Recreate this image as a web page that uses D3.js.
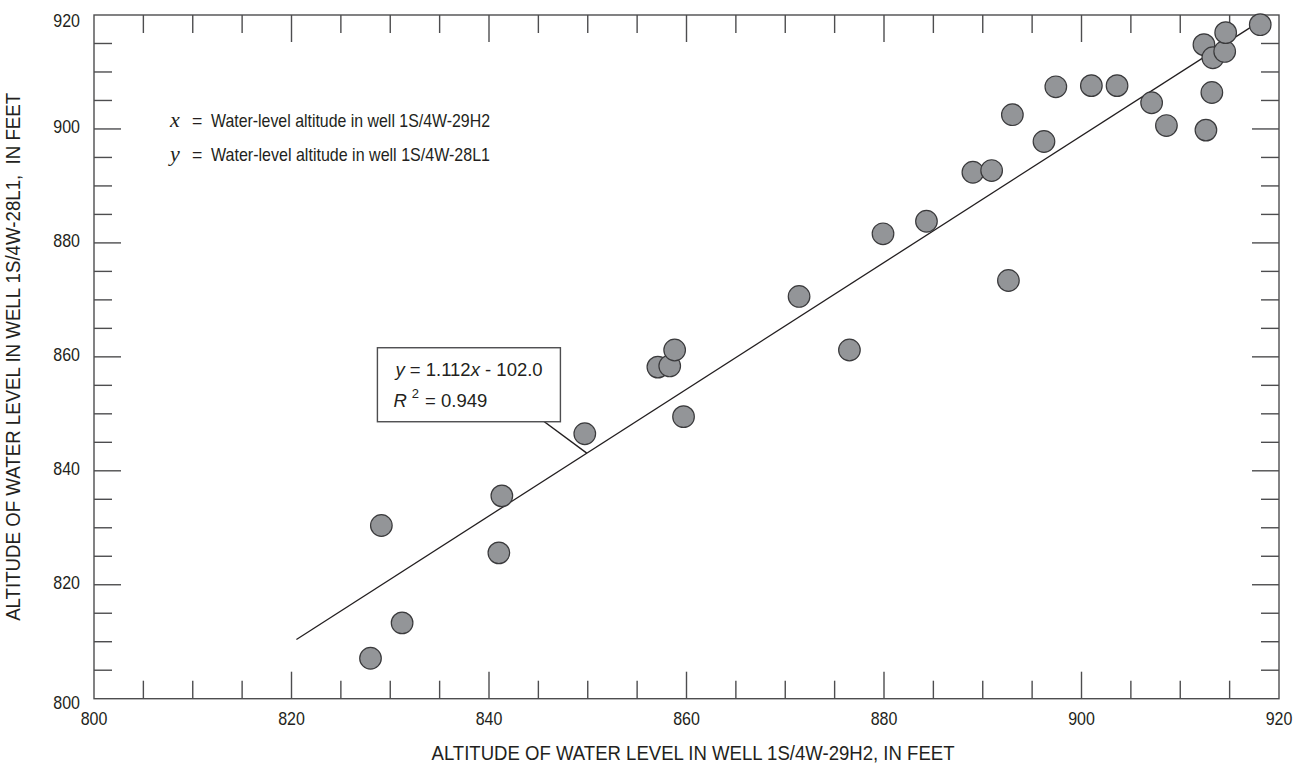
<!DOCTYPE html>
<html>
<head>
<meta charset="utf-8">
<script src="https://cdn.jsdelivr.net/npm/d3@7"></script>
<style>
  body { margin: 0; background: #fff; }
  svg text { font-family: "Liberation Sans", Arial, sans-serif; fill: #231f20; }
  svg text.serif { font-family: "Liberation Serif", "Times New Roman", serif; }
  .frame { fill: none; stroke: #4d4d4f; stroke-width: 1.4; }
  .tick { stroke: #4d4d4f; stroke-width: 1.4; }
</style>
</head>
<body>
<div id="main"></div>
<script>
const ctx = {
    w: 1296,
    h: 764,
    left: 94, right: 1279, top: 15, bottom: 698.7,
    MAJOR_TICK: 27,
    MINOR_TICK: 18,
    DOT_R: 10.8,
    DIGIT_W: 8.9, // the original uses a condensed face, so labels get squeezed
};

// water-level pairs (feet)
const wellX = [828.0, 829.1, 831.2, 841.0, 841.3, 849.7, 857.1, 858.3, 858.8, 859.7,
               871.4, 876.5, 879.9, 884.3, 889.0, 890.9, 892.6, 893.0, 896.2, 897.4,
               901.0, 903.6, 907.1, 908.6, 912.4, 912.6, 913.2, 913.3, 914.5, 914.6, 918.1];
const wellY = [807.1, 830.4, 813.3, 825.6, 835.6, 846.5, 858.2, 858.4, 861.2, 849.5,
               870.6, 861.2, 881.6, 883.8, 892.4, 892.7, 873.4, 902.5, 897.8, 907.4,
               907.6, 907.6, 904.6, 900.6, 914.8, 899.8, 906.4, 912.5, 913.6, 916.9, 918.3];

const SLOPE = 1.112;
const INTERCEPT = -102.0;
const FIT_RANGE = [820.5, 918.3];

const xTicks = [800, 820, 840, 860, 880, 900, 920];
const yTicks = [800, 820, 840, 860, 880, 900, 920];
const DOMAIN = [800, 920];

// annotation anchors in data units
const boxCorner = [828.7, 861.6];
const leader = [[842.8, 852.2], [849.9, 843.1]];

const x = d3.scaleLinear().domain(DOMAIN).range([ctx.left, ctx.right]);
const y = d3.scaleLinear().domain(DOMAIN).range([ctx.bottom, ctx.top]);

function squeeze(sel, len){
    sel.attr("textLength", len).attr("lengthAdjust", "spacingAndGlyphs");
}

function drawTicks(svg){
    let g = svg.append("g").attr("id", "ticks");
    let minor = d3.range(DOMAIN[0] + 5, DOMAIN[1], 5);
    minor.forEach(function(v){
        let len = (v % 20 === 0) ? ctx.MAJOR_TICK : ctx.MINOR_TICK;
        // bottom & top
        g.append("line").attr("class", "tick")
         .attr("x1", x(v)).attr("x2", x(v)).attr("y1", ctx.bottom).attr("y2", ctx.bottom - len);
        g.append("line").attr("class", "tick")
         .attr("x1", x(v)).attr("x2", x(v)).attr("y1", ctx.top).attr("y2", ctx.top + len);
        // left & right
        g.append("line").attr("class", "tick")
         .attr("y1", y(v)).attr("y2", y(v)).attr("x1", ctx.left).attr("x2", ctx.left + len);
        g.append("line").attr("class", "tick")
         .attr("y1", y(v)).attr("y2", y(v)).attr("x1", ctx.right).attr("x2", ctx.right - len);
    });
    svg.append("rect").attr("class", "frame")
       .attr("x", ctx.left).attr("y", ctx.top)
       .attr("width", ctx.right - ctx.left).attr("height", ctx.bottom - ctx.top);

    g.selectAll("text.xl").data(xTicks).enter().append("text")
     .attr("class", "xl")
     .attr("x", (d) => x(d)).attr("y", 725)
     .attr("text-anchor", "middle").attr("font-size", 18.5)
     .call(squeeze, 3 * ctx.DIGIT_W)
     .text((d) => d);

    g.selectAll("text.yl").data(yTicks).enter().append("text")
     .attr("class", "yl")
     .attr("x", 80)
     .attr("y", function(d){
         if (d === 920) return y(d) + 12;
         if (d === 800) return y(d) + 10;
         return y(d) + 4;
     })
     .attr("text-anchor", "end").attr("font-size", 18.5)
     .call(squeeze, 3 * ctx.DIGIT_W)
     .text((d) => d);
}

function drawTitles(svg){
    svg.append("text")
       .attr("x", 693).attr("y", 760)
       .attr("text-anchor", "middle").attr("font-size", 21)
       .call(squeeze, 523)
       .text("ALTITUDE OF WATER LEVEL IN WELL 1S/4W-29H2, IN FEET");
    svg.append("text")
       .attr("transform", "translate(20," + ((ctx.top + ctx.bottom) / 2) + ") rotate(-90)")
       .attr("text-anchor", "middle").attr("font-size", 21)
       .attr("xml:space", "preserve")
       .call(squeeze, 528)
       .text("ALTITUDE OF WATER LEVEL IN WELL 1S/4W-28L1,  IN FEET");
}

function drawLegend(svg){
    let rows = [["x", "Water-level altitude in well 1S/4W-29H2", 127],
                ["y", "Water-level altitude in well 1S/4W-28L1", 161]];
    rows.forEach(function(r){
        svg.append("text").attr("class", "serif")
           .attr("x", 170).attr("y", r[2])
           .attr("font-style", "italic").attr("font-size", 22).text(r[0]);
        svg.append("text").attr("x", 192).attr("y", r[2])
           .attr("font-size", 17.7).text("=");
        svg.append("text").attr("x", 211).attr("y", r[2])
           .attr("font-size", 17.7)
           .call(squeeze, 279)
           .text(r[1]);
    });
}

function drawFit(svg){
    svg.append("line")
       .attr("x1", x(FIT_RANGE[0])).attr("y1", y(SLOPE * FIT_RANGE[0] + INTERCEPT))
       .attr("x2", x(FIT_RANGE[1])).attr("y2", y(SLOPE * FIT_RANGE[1] + INTERCEPT))
       .attr("stroke", "#231f20").attr("stroke-width", 1.3);

    svg.append("line")
       .attr("x1", x(leader[0][0])).attr("y1", y(leader[0][1]))
       .attr("x2", x(leader[1][0])).attr("y2", y(leader[1][1]))
       .attr("stroke", "#231f20").attr("stroke-width", 1.3);

    let bx = x(boxCorner[0]), by = y(boxCorner[1]);
    svg.append("rect")
       .attr("x", bx).attr("y", by).attr("width", 183).attr("height", 74)
       .attr("fill", "#fff").attr("stroke", "#4d4d4f").attr("stroke-width", 1.4);

    let t1 = svg.append("text").attr("x", bx + 18).attr("y", by + 28.5).attr("font-size", 18.5);
    t1.append("tspan").attr("font-style", "italic").text("y");
    t1.append("tspan").text(" = 1.112");
    t1.append("tspan").attr("font-style", "italic").text("x");
    t1.append("tspan").text(" - 102.0");

    let t2 = svg.append("text").attr("x", bx + 16).attr("y", by + 59).attr("font-size", 18.5);
    t2.append("tspan").attr("font-style", "italic").text("R");
    t2.append("tspan").attr("dx", 5).attr("dy", -9).attr("font-size", 13).text("2");
    t2.append("tspan").attr("dx", 6).attr("dy", 9).text("= 0.949");
}

function drawPoints(svg){
    let pts = wellX.map((v, i) => ({x: v, y: wellY[i]}));
    svg.append("g").attr("id", "points")
       .selectAll("circle").data(pts).enter().append("circle")
       .attr("cx", (d) => x(d.x)).attr("cy", (d) => y(d.y))
       .attr("r", ctx.DOT_R)
       .attr("fill", "#939598").attr("stroke", "#3a3a3c").attr("stroke-width", 1.2);
}

function createViz(){
    let svg = d3.select("#main").append("svg")
                .attr("width", ctx.w).attr("height", ctx.h);
    drawTicks(svg);
    drawTitles(svg);
    drawLegend(svg);
    drawFit(svg);
    drawPoints(svg);
}

createViz();
</script>
</body>
</html>
